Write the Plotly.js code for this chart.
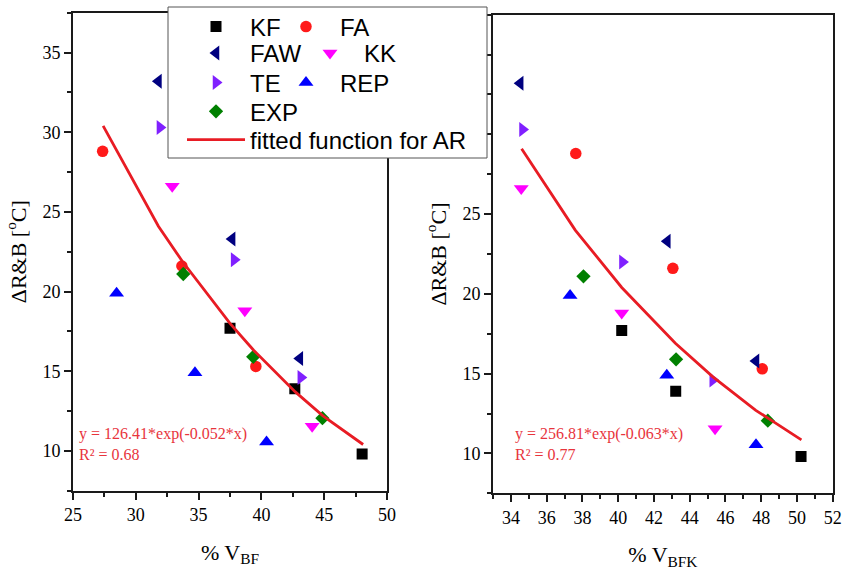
<!DOCTYPE html>
<html>
<head>
<meta charset="utf-8">
<script src="https://cdn.plot.ly/plotly-3.0.1.min.js"></script>
<style>html,body{margin:0;padding:0;background:#fff}#chart{width:843px;height:574px}</style>
</head>
<body>
<div id="chart"></div>
<script>
// ---- data ----
const seriesNames = ["KF", "FA", "FAW", "KK", "TE", "REP", "EXP"];
// ΔR&B [°C] (same for both panels)
const yKF  = [17.7, 13.9, 9.8];
const yFA  = [28.8, 21.6, 15.3];
const yFAW = [33.2, 23.3, 15.8];
const yKK  = [26.6, 18.8, 11.55];
const yTE  = [30.3, 22.0, 14.6];
const yREP = [19.9, 14.9, 10.55];
const yEXP = [21.1, 15.9, 12.05];
// % V_BF (left panel)
const xBF_KF  = [37.5, 42.66, 48.02];
const xBF_FA  = [27.36, 33.67, 39.56];
const xBF_FAW = [31.8, 37.67, 43.06];
const xBF_KK  = [32.9, 38.68, 44.04];
const xBF_TE  = [31.92, 37.83, 43.14];
const xBF_REP = [28.47, 34.71, 40.41];
const xBF_EXP = [33.78, 39.35, 44.86];
// % V_BFK (right panel)
const xBFK_KF  = [40.2, 43.22, 50.23];
const xBFK_FA  = [37.63, 43.06, 48.06];
const xBFK_FAW = [34.52, 42.75, 47.71];
const xBFK_KK  = [34.58, 40.2, 45.42];
const xBFK_TE  = [34.65, 40.24, 45.29];
const xBFK_REP = [37.31, 42.72, 47.71];
const xBFK_EXP = [38.06, 43.24, 48.37];
// fitted curves
const fitBF_x  = [27.4, 31.8, 33.7, 37.5, 39.4, 42.7, 44.9, 48.1];
const fitBF_y  = [30.4, 24.1, 21.9, 18.0, 16.3, 13.7, 12.2, 10.4];
const fitBFK_x = [34.6, 37.6, 40.2, 43.2, 45.3, 47.7, 48.4, 50.25];
const fitBFK_y = [29.1, 24.0, 20.4, 16.9, 14.8, 12.7, 12.2, 10.85];
const fitName = "fitted function for AR";
const eqLeft  = ["y = 126.41*exp(-0.052*x)", "R² = 0.68"];
const eqRight = ["y = 256.81*exp(-0.063*x)", "R² = 0.77"];

// ---- styles ----
const yData = [yKF, yFA, yFAW, yKK, yTE, yREP, yEXP];
const xBF = [xBF_KF, xBF_FA, xBF_FAW, xBF_KK, xBF_TE, xBF_REP, xBF_EXP];
const xBFK = [xBFK_KF, xBFK_FA, xBFK_FAW, xBFK_KK, xBFK_TE, xBFK_REP, xBFK_EXP];
const symbols = ["square", "circle", "triangle-left", "triangle-down", "triangle-right", "triangle-up", "diamond"];
const colors = ["#000000", "#ff1a1a", "#000080", "#ff00ff", "#8020ff", "#0000ff", "#008000"];
const sizes = [11, 11.5, 13, 13, 13, 13, 11];
const fitColor = "rgb(232,28,36)";

const W = 843, H = 574;
// legend entry placement (pixels): [left of entry, row centre]
const legendPos = [[182, 27], [272, 27], [182, 53.3], [296, 53.3], [182, 83], [272, 83], [182, 111.7], [182, 140]];
const legFont = {family: "Liberation Sans, Arial, sans-serif", size: 24, color: "#000"};

const traces = [];
for (let i = 0; i < seriesNames.length; i++) {
  const mk = {symbol: symbols[i], color: colors[i], size: sizes[i], line: {width: 0}};
  traces.push({x: xBF[i], y: yData[i], xaxis: "x", yaxis: "y", mode: "markers",
    name: seriesNames[i], marker: mk, legend: i === 0 ? "legend" : "legend" + (i + 1), showlegend: true});
  traces.push({x: xBFK[i], y: yData[i], xaxis: "x2", yaxis: "y2", mode: "markers",
    name: seriesNames[i], marker: mk, showlegend: false});
}
traces.push({x: fitBF_x, y: fitBF_y, xaxis: "x", yaxis: "y", mode: "lines", name: fitName,
  line: {color: fitColor, width: 2.8}, legend: "legend8", showlegend: true});
traces.push({x: fitBFK_x, y: fitBFK_y, xaxis: "x2", yaxis: "y2", mode: "lines", name: fitName,
  line: {color: fitColor, width: 2.8}, showlegend: false});

const tickFont = {family: "Liberation Serif, Times New Roman, serif", size: 18, color: "#000"};
const titleFont = {family: "Liberation Serif, Times New Roman, serif", size: 22, color: "#000"};
function axisBase() {
  return {showgrid: false, zeroline: false, showline: true, linecolor: "#1a1a1a", linewidth: 2,
    mirror: true, ticks: "outside", ticklen: 7, tickwidth: 2, tickcolor: "#1a1a1a",
    tickfont: tickFont, automargin: false};
}
const xaxis = Object.assign(axisBase(), {domain: [73/W, 387/W], range: [25, 50], dtick: 5, tick0: 0,
  minor: {ticks: "outside", ticklen: 4, tickwidth: 2, dtick: 2.5, tick0: 0, tickcolor: "#1a1a1a"},
  title: {text: "% V<sub>BF</sub>", font: titleFont, standoff: 20}, anchor: "y"});
const xaxis2 = Object.assign(axisBase(), {domain: [493/W, 832.7/W], range: [33, 52], dtick: 2, tick0: 0,
  minor: {ticks: "outside", ticklen: 4, tickwidth: 2, dtick: 1, tick0: 0, tickcolor: "#1a1a1a"},
  title: {text: "% V<sub>BFK</sub>", font: titleFont, standoff: 20}, anchor: "y2"});
const yTitle = "ΔR&amp;B [<sup>o</sup>C]";
const yaxis = Object.assign(axisBase(), {domain: [1 - 490.7/H, 1 - 12.7/H], range: [7.5, 37.5], dtick: 5, tick0: 0,
  minor: {ticks: "outside", ticklen: 4, tickwidth: 2, dtick: 2.5, tick0: 0, tickcolor: "#1a1a1a"},
  title: {text: yTitle, font: titleFont, standoff: 10}, anchor: "x"});
const yaxis2 = Object.assign(axisBase(), {domain: [1 - 493.3/H, 1 - 14.7/H], range: [7.5, 37.5], dtick: 5, tick0: 0,
  minor: {ticks: "outside", ticklen: 4, tickwidth: 2, dtick: 2.5, tick0: 0, tickcolor: "#1a1a1a"},
  title: {text: yTitle, font: titleFont, standoff: 10}, anchor: "x2"});

const eqFont = {family: "Liberation Serif, Times New Roman, serif", size: 16, color: "#e8343c"};
const layout = {
  width: W, height: H, margin: {l: 0, r: 0, t: 0, b: 0},
  paper_bgcolor: "#fff", plot_bgcolor: "#fff",
  xaxis: xaxis, yaxis: yaxis, xaxis2: xaxis2, yaxis2: yaxis2,
  shapes: [{type: "rect", xref: "paper", yref: "paper", layer: "above",
    x0: 168/W, x1: 487/W, y0: 1 - 158/H, y1: 1 - 7/H,
    fillcolor: "#fff", line: {color: "#555", width: 1}}],
  annotations: [
    {xref: "x", yref: "y", x: 25.35, y: 10.4, xanchor: "left", yanchor: "middle", align: "left",
      showarrow: false, text: eqLeft.join("<br>"), font: eqFont},
    {xref: "x2", yref: "y2", x: 34.1, y: 10.6, xanchor: "left", yanchor: "middle", align: "left",
      showarrow: false, text: eqRight.join("<br>"), font: eqFont}
  ]
};
legendPos.forEach(function (p, i) {
  const key = i === 0 ? "legend" : "legend" + (i + 1);
  layout[key] = {orientation: "v", x: p[0] / W, xanchor: "left", y: 1 - p[1] / H, yanchor: "middle",
    bgcolor: "rgba(0,0,0,0)", borderwidth: 0, font: legFont, itemwidth: 58};
});
Plotly.newPlot("chart", traces, layout, {displayModeBar: false, staticPlot: true});
</script>
</body>
</html>
